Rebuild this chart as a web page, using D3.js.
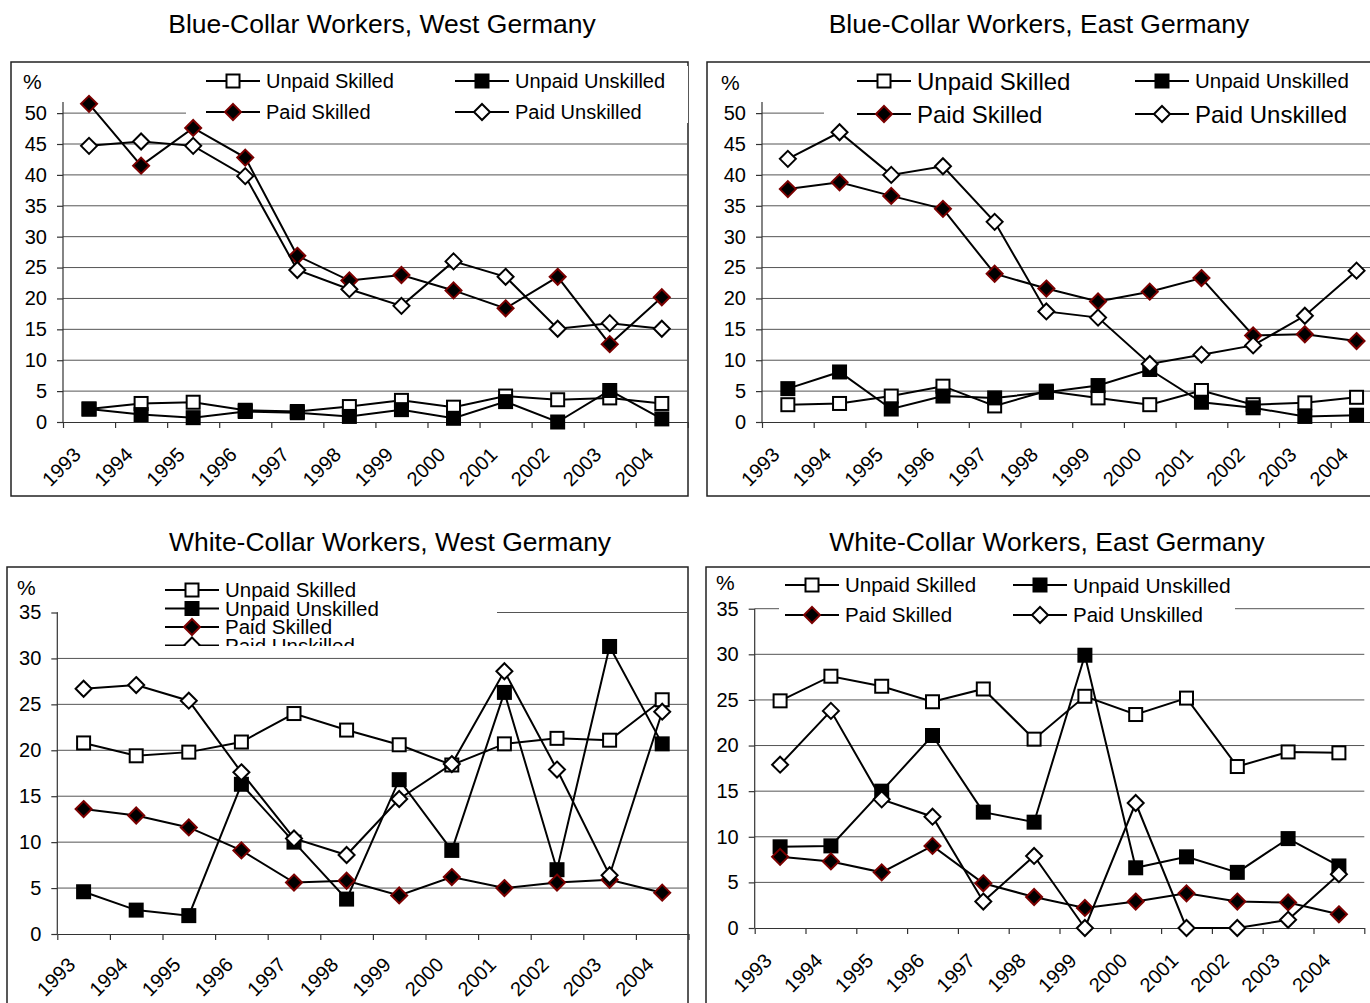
<!DOCTYPE html>
<html>
<head>
<meta charset="utf-8">
<script src="https://cdn.jsdelivr.net/npm/d3@7"></script>
<style>
body{margin:0;background:#fff;}
svg{font-family:"Liberation Sans",Arial,sans-serif;}
.grid line{stroke:#555;stroke-width:1;}
.ax path,.ax line{stroke:#333;stroke-width:1.2;}
.ax text{font-size:20px;fill:#000;}
</style>
</head>
<body>
<div id="chart"></div>
<script>
var years = ["1993","1994","1995","1996","1997","1998","1999","2000","2001","2002","2003","2004"];
var seriesNames = ["Unpaid Skilled","Unpaid Unskilled","Paid Skilled","Paid Unskilled"];
var ticksBlue = [0,5,10,15,20,25,30,35,40,45,50];
var ticksWhite = [0,5,10,15,20,25,30,35];

// blue-collar, west
var bcWestUnpaidSkilled   = [2.1,3.0,3.2,1.9,1.7,2.5,3.5,2.4,4.2,3.6,3.9,3.0];
var bcWestUnpaidUnskilled = [2.1,1.2,0.7,1.7,1.5,0.9,2.0,0.6,3.3,0.0,5.1,0.5];
var bcWestPaidSkilled     = [51.5,41.5,47.6,42.8,26.9,22.9,23.8,21.3,18.4,23.5,12.6,20.2];
var bcWestPaidUnskilled   = [44.7,45.4,44.7,39.8,24.6,21.5,18.8,26.0,23.5,15.1,16.0,15.1];
// blue-collar, east
var bcEastUnpaidSkilled   = [2.8,3.0,4.2,5.8,2.6,5.0,3.9,2.8,5.1,2.8,3.1,4.0];
var bcEastUnpaidUnskilled = [5.4,8.1,2.1,4.2,3.9,4.8,5.9,8.5,3.2,2.3,0.9,1.1];
var bcEastPaidSkilled     = [37.7,38.8,36.6,34.5,24.0,21.6,19.5,21.1,23.3,14.0,14.2,13.1];
var bcEastPaidUnskilled   = [42.6,46.9,40.0,41.4,32.4,17.9,16.9,9.4,10.9,12.4,17.2,24.5];
// white-collar, west
var wcWestUnpaidSkilled   = [20.8,19.4,19.8,20.9,24.0,22.2,20.6,18.4,20.7,21.3,21.1,25.5];
var wcWestUnpaidUnskilled = [4.6,2.6,2.0,16.3,10.0,3.8,16.8,9.1,26.3,7.0,31.3,20.7];
var wcWestPaidSkilled     = [13.6,12.9,11.6,9.1,5.6,5.8,4.2,6.2,5.0,5.6,5.9,4.5];
var wcWestPaidUnskilled   = [26.7,27.1,25.4,17.6,10.4,8.6,14.7,18.5,28.6,17.9,6.4,24.2];
// white-collar, east
var wcEastUnpaidSkilled   = [24.9,27.6,26.5,24.8,26.2,20.7,25.4,23.4,25.2,17.7,19.3,19.2];
var wcEastUnpaidUnskilled = [8.9,9.0,15.0,21.1,12.7,11.6,29.9,6.6,7.8,6.1,9.8,6.8];
var wcEastPaidSkilled     = [7.8,7.3,6.1,9.0,4.9,3.4,2.2,2.9,3.8,2.9,2.8,1.5];
var wcEastPaidUnskilled   = [17.9,23.8,14.1,12.2,2.9,7.9,0.0,13.7,0.0,0.0,0.9,5.9];

var svg = d3.select("#chart").append("svg").attr("width",1370).attr("height",1003);

// marker styles per series: square/diamond, fill, stroke
var markStyle = [
  {shape:"square", fill:"#fff", stroke:"#000"},
  {shape:"square", fill:"#000", stroke:"#000"},
  {shape:"diamond", fill:"#000", stroke:"#7a0000"},
  {shape:"diamond", fill:"#fff", stroke:"#000"}
];

function marker(g, x, y, k)
{
    var s = markStyle[k];
    if(s.shape=="square")
        g.append("rect").attr("x",x-6.5).attr("y",y-6.5).attr("width",13).attr("height",13)
          .attr("fill",s.fill).attr("stroke",s.stroke).attr("stroke-width",2);
    else
        g.append("path").attr("d","M"+x+","+(y-8)+"L"+(x+8)+","+y+"L"+x+","+(y+8)+"L"+(x-8)+","+y+"Z")
          .attr("fill",s.fill).attr("stroke",s.stroke).attr("stroke-width",2);
}

function panel(options)
{
    var id = options.id;
    var g = svg.append("g");
    var nCat = years.length;
    var xEnd = options.axisX + nCat*options.step;

    var x = d3.scaleBand().domain(years).range([options.axisX, xEnd]).padding(0);
    var xb = d3.scaleLinear().domain([0,nCat]).range([options.axisX, xEnd]);
    var y = d3.scaleLinear().domain([0,options.topVal]).range([options.y0, options.yTop]);

    // frame
    g.append("rect").attr("x",options.box[0]).attr("y",options.box[1])
      .attr("width",options.box[2]).attr("height",options.box[3])
      .attr("fill","#fff").attr("stroke","#222").attr("stroke-width",1.5);

    g.append("text").attr("x",options.titleX).attr("y",options.titleY)
      .attr("text-anchor","middle").style("font-size","26.5px").text(options.title);

    // gridlines
    g.append("g").attr("class","grid")
      .selectAll("line").data(options.ticks.filter(function(d){return d>0;})).enter().append("line")
      .attr("x1",options.axisX).attr("x2",xEnd)
      .attr("y1",function(d){return y(d);}).attr("y2",function(d){return y(d);});

    // legend background hides part of the top gridline
    var lg = g.append("g");
    lg.append("rect").attr("x",options.legendBg[0]).attr("y",options.legendBg[1])
      .attr("width",options.legendBg[2]).attr("height",options.legendBg[3]).attr("fill","#fff");

    // axes
    g.append("g").attr("class","ax")
      .attr("transform","translate("+options.axisX+",0)")
      .call(d3.axisLeft(y).tickValues(options.ticks).tickSize(6).tickSizeOuter(0).tickPadding(10))
      .select(".domain").attr("d","M0,"+options.y0+"V"+y(options.topVal));

    g.append("g").attr("class","ax")
      .attr("transform","translate(0,"+options.y0+")")
      .call(d3.axisBottom(xb).tickValues(d3.range(0,nCat+1)).tickSize(6).tickSizeOuter(0).tickFormat(""));

    g.selectAll(".yr").data(years).enter().append("text")
      .attr("transform",function(d){ return "translate("+(x(d)+x.bandwidth()/2-7)+","+(options.y0+options.yrDy)+") rotate(-45)"; })
      .attr("text-anchor","end").style("font-size","20px").text(function(d){return d;});

    g.append("text").attr("x",options.pct[0]).attr("y",options.pct[1]).style("font-size","21px").text("%");

    var line = d3.line()
        .x(function(d,i){ return x(years[i])+x.bandwidth()/2; })
        .y(function(d){ return y(d); });

    options.data.forEach(function(vals,k){
        var sg = g.append("g");
        sg.append("path").datum(vals).attr("d",line).attr("fill","none")
          .attr("stroke","#000").attr("stroke-width",2);
        vals.forEach(function(v,i){ marker(sg, x(years[i])+x.bandwidth()/2, y(v), k); });
    });

    // legend entries
    var leg = svg.append("g");
    if(options.clipLegend)
    {
        svg.append("clipPath").attr("id","clip"+id).append("rect")
          .attr("x",options.legendBg[0]).attr("y",options.legendBg[1])
          .attr("width",options.legendBg[2]).attr("height",options.legendBg[3]);
        leg.attr("clip-path","url(#clip"+id+")");
    }
    seriesNames.forEach(function(name,k){
        var p = options.legendPos[k];
        leg.append("line").attr("x1",p[0]).attr("x2",p[0]+54).attr("y1",p[1]).attr("y2",p[1])
          .attr("stroke","#000").attr("stroke-width",2);
        marker(leg, p[0]+27, p[1], k);
        leg.append("text").attr("x",p[0]+60).attr("y",p[1]).attr("dy","0.36em")
          .style("font-size",options.legendFont[k]+"px").text(name);
    });
}

panel({id:1, title:"Blue-Collar Workers, West Germany", titleX:382, titleY:33,
    box:[11,62,677,434], axisX:63, step:52.07, y0:422, yTop:102, topVal:51.8, ticks:ticksBlue, yrDy:34,
    pct:[23,89], legendBg:[186,66,502,57],
    legendPos:[[206,81],[455,81],[206,112],[455,112]], legendFont:[20,20,20,20],
    data:[bcWestUnpaidSkilled,bcWestUnpaidUnskilled,bcWestPaidSkilled,bcWestPaidUnskilled]});

panel({id:2, title:"Blue-Collar Workers, East Germany", titleX:1039, titleY:33,
    box:[707,62,700,434], axisX:762, step:51.7, y0:422, yTop:102, topVal:51.8, ticks:ticksBlue, yrDy:34,
    pct:[721,90], legendBg:[824,66,600,57],
    legendPos:[[857,81],[1135,81],[857,114],[1135,114]], legendFont:[24,20.5,24,24],
    data:[bcEastUnpaidSkilled,bcEastUnpaidUnskilled,bcEastPaidSkilled,bcEastPaidUnskilled]});

panel({id:3, title:"White-Collar Workers, West Germany", titleX:390, titleY:551,
    box:[7,567,681,500], axisX:57.3, step:52.6, y0:934, yTop:612.5, topVal:35, ticks:ticksWhite, yrDy:32,
    pct:[17,595], legendBg:[58,572,439,74], clipLegend:true,
    legendPos:[[165,590],[165,608.5],[165,627],[165,645.5]], legendFont:[20.5,20.5,20.5,20.5],
    data:[wcWestUnpaidSkilled,wcWestUnpaidUnskilled,wcWestPaidSkilled,wcWestPaidUnskilled]});

panel({id:4, title:"White-Collar Workers, East Germany", titleX:1047, titleY:551,
    box:[706,567,700,500], axisX:754.7, step:50.8, y0:928, yTop:608.7, topVal:35, ticks:ticksWhite, yrDy:34,
    pct:[716,590], legendBg:[779,570,456,60],
    legendPos:[[785,585],[1013,585],[785,615],[1013,615]], legendFont:[20.5,21,20.5,20.5],
    data:[wcEastUnpaidSkilled,wcEastUnpaidUnskilled,wcEastPaidSkilled,wcEastPaidUnskilled]});
</script>
</body>
</html>
